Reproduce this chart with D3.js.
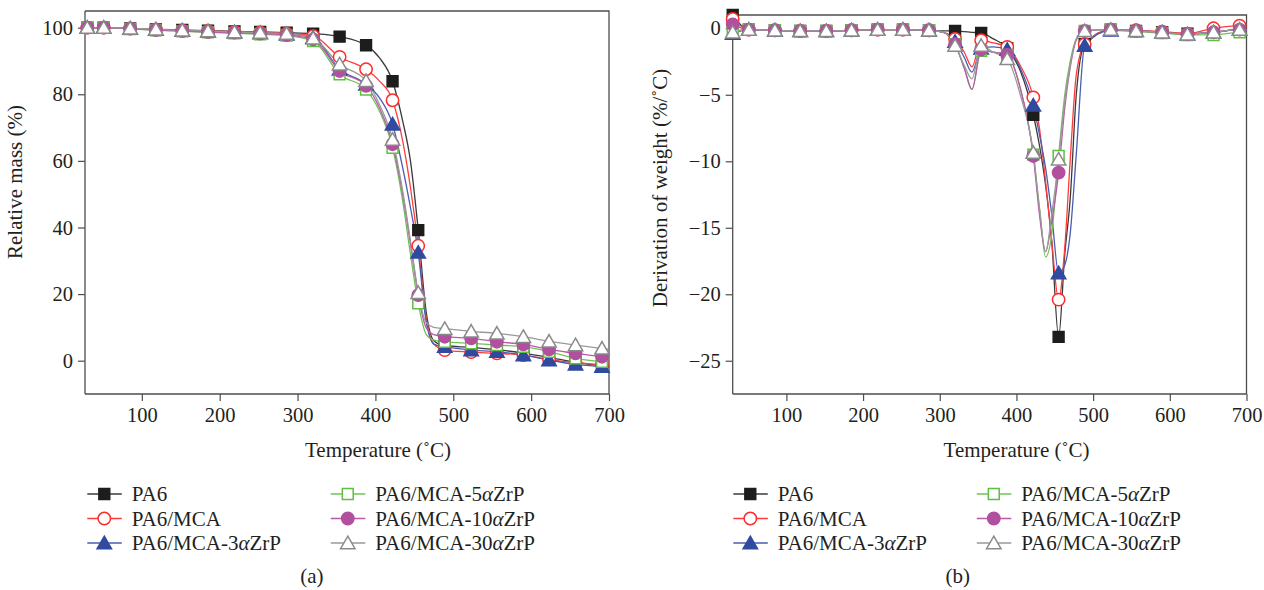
<!DOCTYPE html>
<html><head><meta charset="utf-8">
<script src="https://cdn.jsdelivr.net/npm/d3@7"></script>
<style>
html,body{margin:0;padding:0;background:#fff;}
svg text{font-family:"Liberation Serif","DejaVu Serif",serif;fill:#231f20;}
</style></head>
<body><svg id="chart" width="1264" height="590"></svg>
<script>
// ---------- DATA ----------
const seriesNames = ["PA6","PA6/MCA","PA6/MCA-3αZrP","PA6/MCA-5αZrP","PA6/MCA-10αZrP","PA6/MCA-30αZrP"];
const markerTemps = [30,51,85,118,152,185,219,252,286,320,354,388,422,455,489,523,556,590,623,657,691];

// (a) TGA: relative mass (%)
const tgaTemps = [30,51,85,118,152,185,219,252,286,320,354,388,405,422,435,445,455,465,475,489,523,556,590,623,657,691,700];
const tgaPA6   = [100,100,99.8,99.5,99.3,99.1,98.9,98.7,98.5,98.2,97.3,94.7,91,83.9,72,60,39.2,15,6,4.5,4,3.3,2.3,1,-0.5,-1.5,-1.8];
const tgaMCA   = [100,100,99.8,99.5,99.2,99,98.8,98.6,98.3,97.5,91.2,87.5,84,78.2,66,52,34.5,13,5,3.2,2.6,2.2,1.7,0.4,-0.6,-1.2,-1.4];
const tgaZ3    = [100,100,99.7,99.4,99.1,98.9,98.6,98.4,98,97,87.5,83,79,71,58,46,32.5,12,5,4.2,3.2,2.7,1.7,0.2,-1.1,-1.8,-2];
const tgaZ5    = [100,100,99.6,99.2,98.9,98.6,98.3,98,97.6,96,86,81.4,75,63.9,48,32,17.2,8,6.2,5.7,5.2,4.7,4.2,2.7,0.7,-0.3,-0.5];
const tgaZ10   = [100,100,99.7,99.3,99,98.7,98.5,98.2,97.8,96.5,87,82.5,76,65,50,35,19.7,10,7.8,7.2,6.7,5.7,4.9,3.4,2.2,1.2,1];
const tgaZ30   = [100,100,99.8,99.5,99.2,99,98.7,98.5,98.2,96.8,89,84,77,66.4,51,36,20.4,11.5,10,9.6,8.8,8.2,7.2,5.8,4.7,3.7,3.5];

// (b) DTG: derivation of weight (%/˚C)
const dtgTemps = [30,51,85,118,152,185,219,252,286,305,320,332,342,354,370,388,405,422,430,438,446,455,463,470,478,489,523,556,590,623,657,691,700];
const dtgPA6   = [1.0,-0.1,-0.15,-0.2,-0.2,-0.15,-0.1,-0.1,-0.15,-0.2,-0.2,-0.25,-0.3,-0.35,-0.8,-1.5,-3.2,-6.5,-8.8,-11.8,-16,-23.2,-17,-12.9,-5,-1.2,-0.1,-0.2,-0.3,-0.4,-0.3,-0.1,-0.1];
const dtgMCA   = [0.7,-0.1,-0.15,-0.2,-0.2,-0.15,-0.1,-0.1,-0.15,-0.3,-0.8,-1.8,-2.9,-0.9,-1.1,-1.4,-2.8,-5.2,-7.5,-11.5,-16,-20.4,-16.5,-10,-3.5,-1.2,-0.1,-0.15,-0.25,-0.4,0,0.2,0.2];
const dtgZ3    = [-0.4,-0.1,-0.15,-0.2,-0.2,-0.15,-0.1,-0.1,-0.15,-0.3,-1.0,-2.2,-3.3,-1.5,-1.4,-1.6,-3.0,-5.8,-8,-10.5,-14,-18.4,-17.8,-15.5,-9.5,-1.3,-0.15,-0.2,-0.3,-0.45,-0.3,-0.1,-0.1];
const dtgZ5    = [-0.2,-0.1,-0.15,-0.2,-0.2,-0.15,-0.1,-0.1,-0.15,-0.3,-1.2,-3.0,-4.6,-1.7,-1.8,-2.0,-4.5,-9.5,-13.5,-17.2,-15.5,-9.6,-5,-2.5,-0.8,-0.2,-0.1,-0.25,-0.35,-0.5,-0.5,-0.3,-0.3];
const dtgZ10   = [0.3,-0.1,-0.15,-0.2,-0.2,-0.15,-0.1,-0.1,-0.15,-0.3,-1.2,-3.0,-4.6,-1.6,-1.8,-2.0,-4.5,-9.6,-14,-16.8,-14.5,-10.85,-6,-3,-0.9,-0.2,-0.1,-0.2,-0.3,-0.45,-0.3,-0.1,-0.1];
const dtgZ30   = [-0.3,-0.1,-0.15,-0.2,-0.2,-0.15,-0.1,-0.1,-0.15,-0.3,-1.3,-2.8,-3.8,-1.3,-1.8,-2.3,-5,-9.35,-13.5,-16.8,-14,-9.85,-5.5,-2.8,-0.8,-0.2,-0.1,-0.2,-0.3,-0.45,-0.3,-0.1,-0.1];

const xTicks = [100,200,300,400,500,600,700];
const tgaYTicks = [0,20,40,60,80,100];
const dtgYTicks = [0,-5,-10,-15,-20,-25];

// ---------- STYLE ----------
const styles = [
  {line:"#3a3a3a", stroke:"#1d1d1b", fill:"#1d1d1b", shape:d3.symbolSquare, size:118},
  {line:"#ff3b3b", stroke:"#ff2a2a", fill:"#ffffff", shape:d3.symbolCircle, size:120},
  {line:"#4a5cb0", stroke:"#2f4a9e", fill:"#2f4a9e", shape:d3.symbolTriangle, size:90},
  {line:"#72c05a", stroke:"#5fbf3f", fill:"#ffffff", shape:d3.symbolSquare, size:118},
  {line:"#b85aa8", stroke:"#b0509e", fill:"#b0509e", shape:d3.symbolCircle, size:120},
  {line:"#999999", stroke:"#8a8a8a", fill:"#ffffff", shape:d3.symbolTriangle, size:90}
];
const FS = 21;
const TFS = 20.5;
const svg = d3.select("#chart");

function panel(cfg){
  const g = svg.append("g");
  const x = d3.scaleLinear().domain(cfg.xDomain).range([cfg.left, cfg.right]);
  const y = d3.scaleLinear().domain(cfg.yDomain).range([cfg.bottom, cfg.top]);
  const axisCol = "#4d4d4d";
  g.append("path").attr("d",`M${cfg.left},${cfg.top}H${cfg.right}V${cfg.bottom}`)
    .attr("fill","none").attr("stroke",axisCol).attr("stroke-width",1.3);
  const xMinor = d3.range(50,701,50).filter(v=>v>=cfg.xDomain[0]);
  const gx = g.append("g").attr("transform",`translate(0,${cfg.bottom})`);
  gx.call(d3.axisBottom(x).tickValues(xMinor).tickSize(3.5).tickFormat(""));
  gx.call(d3.axisBottom(x).tickValues(xTicks).tickSize(7).tickPadding(6).tickFormat(d3.format("d")));
  const gy = g.append("g").attr("transform",`translate(${cfg.left},0)`);
  gy.call(d3.axisLeft(y).tickValues(cfg.yMinor).tickSize(3.5).tickFormat(""));
  gy.call(d3.axisLeft(y).tickValues(cfg.yTicks).tickSize(7).tickPadding(5)
    .tickFormat(v=> v<0 ? "\u2212"+Math.abs(v) : String(v)));
  [gx,gy].forEach(a=>{
    a.selectAll("path.domain").attr("stroke",axisCol).attr("stroke-width",1.3);
    a.selectAll("line").attr("stroke",axisCol).attr("stroke-width",1.2);
    a.selectAll("text").attr("font-size",TFS).attr("font-family","Liberation Serif").attr("fill","#231f20");
  });
  gx.select("path.domain").attr("d",`M${cfg.left},0H${cfg.right}`);
  gy.select("path.domain").attr("d",`M0,${cfg.bottom}V${cfg.top}`);
  g.append("text").attr("x",(cfg.left+cfg.right)/2-cfg.xtOff).attr("y",cfg.bottom+63)
    .attr("text-anchor","middle").attr("font-size",FS).text("Temperature (\u02DAC)");
  g.append("text").attr("transform",`translate(${cfg.ytX},${cfg.ytY}) rotate(-90)`)
    .attr("text-anchor","middle").attr("font-size",FS).text(cfg.yTitle);
  const cid = "clip"+cfg.id;
  svg.append("clipPath").attr("id",cid).append("rect")
    .attr("x",cfg.left).attr("y",cfg.top-10).attr("width",cfg.right-cfg.left+1).attr("height",cfg.bottom-cfg.top+10);
  const line = d3.line().x(d=>x(d[0])).y(d=>y(d[1])).curve(d3.curveMonotoneX);
  const data = cfg.series.map(vals=>cfg.temps.map((t,i)=>[t,vals[i]]));
  data.forEach((pts,si)=>{
    const st = styles[si];
    g.append("path").attr("d",line(pts)).attr("fill","none").attr("stroke",st.line)
      .attr("stroke-width",1.3).attr("clip-path",`url(#${cid})`);
  });
  data.forEach((pts,si)=>{
    const st = styles[si];
    const sym = d3.symbol().type(st.shape).size(st.size);
    g.selectAll(null).data(pts.filter(p=>markerTemps.includes(p[0]))).enter().append("path")
      .attr("d",sym).attr("transform",d=>{
        const dy = st.shape===d3.symbolTriangle ? 1.5 : 0;
        return `translate(${x(d[0])},${y(d[1])+dy})`;})
      .attr("fill",st.fill).attr("stroke",st.stroke).attr("stroke-width",1.5);
  });
  const lg = g.append("g");
  seriesNames.forEach((name,si)=>{
    const col = Math.floor(si/3), row = si%3;
    const lx = cfg.legX + col*243.5, ly = 494 + row*24.5;
    const st = styles[si];
    lg.append("line").attr("x1",lx).attr("x2",lx+34.5).attr("y1",ly).attr("y2",ly)
      .attr("stroke",st.line).attr("stroke-width",1.3);
    const dy = st.shape===d3.symbolTriangle ? 1.5 : 0;
    lg.append("path").attr("d",d3.symbol().type(st.shape).size(st.size)())
      .attr("transform",`translate(${lx+17},${ly+dy})`)
      .attr("fill",st.fill).attr("stroke",st.stroke).attr("stroke-width",1.5);
    const t = lg.append("text").attr("x",lx+44.5).attr("y",ly+7).attr("font-size",FS);
    const parts = name.split("α");
    t.append("tspan").text(parts[0]);
    if(parts.length>1){
      t.append("tspan").attr("font-style","italic").text("α");
      t.append("tspan").text(parts[1]);
    }
  });
  g.append("text").attr("x",cfg.legX+224.5).attr("y",583).attr("text-anchor","middle")
    .attr("font-size",FS).text(cfg.label);
}

panel({id:"a", left:85, right:609, top:11, bottom:394, xDomain:[27,700], yDomain:[-10,105],
  yTicks:tgaYTicks, yMinor:[-10,10,30,50,70,90], temps:tgaTemps,
  series:[tgaPA6,tgaMCA,tgaZ3,tgaZ5,tgaZ10,tgaZ30],
  yTitle:"Relative mass (%)", ytX:22, ytY:182, xtOff:-31, legX:87.3, label:"(a)"});

panel({id:"b", left:732.7, right:1246.5, top:15, bottom:394, xDomain:[30,700], yDomain:[-27.5,1],
  yTicks:dtgYTicks, yMinor:[-2.5,-7.5,-12.5,-17.5,-22.5], temps:dtgTemps,
  series:[dtgPA6,dtgMCA,dtgZ3,dtgZ5,dtgZ10,dtgZ30],
  yTitle:"Derivation of weight (%/\u02DAC)", ytX:667, ytY:188, xtOff:-27, legX:733.3, label:"(b)"});
</script></body></html>
